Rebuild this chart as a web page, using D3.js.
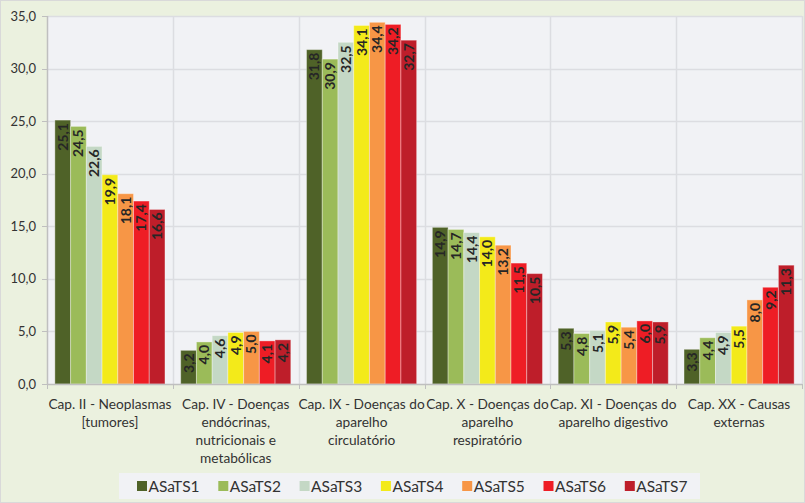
<!DOCTYPE html>
<html>
<head>
<meta charset="utf-8">
<script src="https://cdn.jsdelivr.net/npm/d3@7"></script>
<style>
  body{ margin:0; background:#fff; }
  svg{ display:block; font-family:Lato, "Open Sans", sans-serif; }
</style>
</head>
<body>
<svg id="canvas" width="805" height="503"></svg>
<script>
'use strict';

/* chart data */
var categories = [
  ['Cap. II - Neoplasmas', '[tumores]'],
  ['Cap. IV - Doenças', 'endócrinas,', 'nutricionais e', 'metabólicas'],
  ['Cap. IX - Doenças do', 'aparelho', 'circulatório'],
  ['Cap. X - Doenças do', 'aparelho', 'respiratório'],
  ['Cap. XI - Doenças do', 'aparelho digestivo'],
  ['Cap. XX - Causas', 'externas']
];
var seriesNames = ['ASaTS1', 'ASaTS2', 'ASaTS3', 'ASaTS4', 'ASaTS5', 'ASaTS6', 'ASaTS7'];
var ASaTS1 = [25.1, 3.2, 31.8, 14.9, 5.3, 3.3];
var ASaTS2 = [24.5, 4.0, 30.9, 14.7, 4.8, 4.4];
var ASaTS3 = [22.6, 4.6, 32.5, 14.4, 5.1, 4.9];
var ASaTS4 = [19.9, 4.9, 34.1, 14.0, 5.9, 5.5];
var ASaTS5 = [18.1, 5.0, 34.4, 13.2, 5.4, 8.0];
var ASaTS6 = [17.4, 4.1, 34.2, 11.5, 6.0, 9.2];
var ASaTS7 = [16.6, 4.2, 32.7, 10.5, 5.9, 11.3];
var seriesValues = [ASaTS1, ASaTS2, ASaTS3, ASaTS4, ASaTS5, ASaTS6, ASaTS7];
var yTicks = [0, 5, 10, 15, 20, 25, 30, 35];

var colors = ['#4f6228', '#9bbb59', '#c4d8c5', '#f3ea1a', '#f79646', '#ee1d25', '#be1e2a'];

var svg = d3.select('#canvas');
var W = 805, H = 503;
var plot = {left: 47, right: 802, top: 16, bottom: 384};

/* outer background */
svg.append('rect')
  .attr('x', 0.5).attr('y', 0.5)
  .attr('width', W - 1).attr('height', H - 1)
  .attr('fill', '#ebf1df')
  .attr('stroke', '#d9d9d9');

/* plot area */
svg.append('rect')
  .attr('x', plot.left).attr('y', plot.top)
  .attr('width', plot.right - plot.left).attr('height', plot.bottom - plot.top)
  .attr('fill', '#f1f2f5');

var x0 = d3.scaleBand()
  .domain(d3.range(categories.length))
  .range([plot.left, plot.right])
  .paddingInner(0.125).paddingOuter(0.0625);
var x1 = d3.scaleBand()
  .domain(d3.range(seriesNames.length))
  .range([0, x0.bandwidth()]);
var y = d3.scaleLinear().domain([0, 35]).range([plot.bottom, plot.top]);

/* horizontal gridlines */
svg.append('g').selectAll('line')
  .data(yTicks.filter(function(d){ return d > 0; }))
  .enter().append('line')
    .attr('x1', plot.left).attr('x2', plot.right)
    .attr('y1', function(d){ return Math.round(y(d)) + 0.5; })
    .attr('y2', function(d){ return Math.round(y(d)) + 0.5; })
    .attr('stroke', '#dcdde1').attr('stroke-width', 1.5);

/* vertical gridlines at category boundaries */
var step = (plot.right - plot.left) / categories.length;
svg.append('g').selectAll('line')
  .data(d3.range(1, categories.length + 1))
  .enter().append('line')
    .attr('x1', function(d){ return Math.round(plot.left + d * step) + 0.5; })
    .attr('x2', function(d){ return Math.round(plot.left + d * step) + 0.5; })
    .attr('y1', plot.top).attr('y2', plot.bottom)
    .attr('stroke', '#dcdde1').attr('stroke-width', 1.5);

/* bars */
var groups = svg.append('g').selectAll('g')
  .data(categories)
  .enter().append('g')
    .attr('transform', function(d, i){ return 'translate(' + x0(i) + ',0)'; });

groups.each(function(c, ci){
  var g = d3.select(this);
  seriesValues.forEach(function(vals, si){
    var v = vals[ci];
    var bx = x1(si), bw = x1.bandwidth();
    g.append('rect')
      .attr('x', bx).attr('y', y(v))
      .attr('width', bw).attr('height', y(0) - y(v))
      .attr('fill', colors[si])
      .attr('stroke', 'rgba(255,255,255,0.35)').attr('stroke-width', 1);
    g.append('text')
      .attr('transform', 'translate(' + (bx + bw / 2 + 5) + ',' + (y(v) + 3) + ') rotate(-90)')
      .attr('text-anchor', 'end')
      .attr('font-size', '14px')
      .attr('font-weight', 'bold')
      .attr('fill', '#262626')
      .text(d3.format('.1f')(v).replace('.', ','));
  });
});

/* y axis */
svg.append('line')
  .attr('x1', plot.left + 0.5).attr('x2', plot.left + 0.5)
  .attr('y1', plot.top).attr('y2', plot.bottom)
  .attr('stroke', '#bfbfbf').attr('stroke-width', 1.5);
var yAxis = svg.append('g');
yAxis.selectAll('line')
  .data(yTicks).enter().append('line')
    .attr('x1', plot.left - 5).attr('x2', plot.left)
    .attr('y1', function(d){ return Math.round(y(d)) + 0.5; })
    .attr('y2', function(d){ return Math.round(y(d)) + 0.5; })
    .attr('stroke', '#bfbfbf');
yAxis.selectAll('text')
  .data(yTicks).enter().append('text')
    .attr('x', plot.left - 11)
    .attr('y', function(d){ return y(d) + 4.5; })
    .attr('text-anchor', 'end')
    .attr('font-size', '13px')
    .attr('fill', '#333')
    .text(function(d){ return d3.format('.1f')(d).replace('.', ','); });

/* x axis */
svg.append('line')
  .attr('x1', plot.left).attr('x2', plot.right)
  .attr('y1', plot.bottom + 0.5).attr('y2', plot.bottom + 0.5)
  .attr('stroke', '#bfbfbf').attr('stroke-width', 1.5);
svg.append('g').selectAll('line')
  .data(d3.range(0, categories.length + 1))
  .enter().append('line')
    .attr('x1', function(d){ return Math.round(plot.left + d * step) + 0.5; })
    .attr('x2', function(d){ return Math.round(plot.left + d * step) + 0.5; })
    .attr('y1', plot.bottom).attr('y2', plot.bottom + 5)
    .attr('stroke', '#bfbfbf');

/* category labels */
var labels = svg.append('g').selectAll('text')
  .data(categories)
  .enter().append('text')
    .attr('x', function(d, i){ return plot.left + (i + 0.5) * step; })
    .attr('y', 409)
    .attr('text-anchor', 'middle')
    .attr('font-size', '13.7px')
    .attr('fill', '#333');
labels.selectAll('tspan')
  .data(function(d){ return d; })
  .enter().append('tspan')
    .attr('x', function(){ return d3.select(this.parentNode).attr('x'); })
    .attr('dy', function(d, i){ return i === 0 ? 0 : 18; })
    .text(function(d){ return d; });

/* legend */
var legend = svg.append('g');
legend.append('rect')
  .attr('x', 119).attr('y', 473)
  .attr('width', 581).attr('height', 26)
  .attr('fill', '#f1f2f5');
var items = legend.selectAll('g')
  .data(seriesNames)
  .enter().append('g')
    .attr('transform', function(d, i){ return 'translate(' + (137 + i * 81.3) + ',481)'; });
items.append('rect')
  .attr('width', 10).attr('height', 10)
  .attr('fill', function(d, i){ return colors[i]; });
items.append('text')
  .attr('x', 11.5).attr('y', 11)
  .attr('font-size', '15.5px')
  .attr('fill', '#333')
  .text(function(d){ return d; });
</script>
</body>
</html>
